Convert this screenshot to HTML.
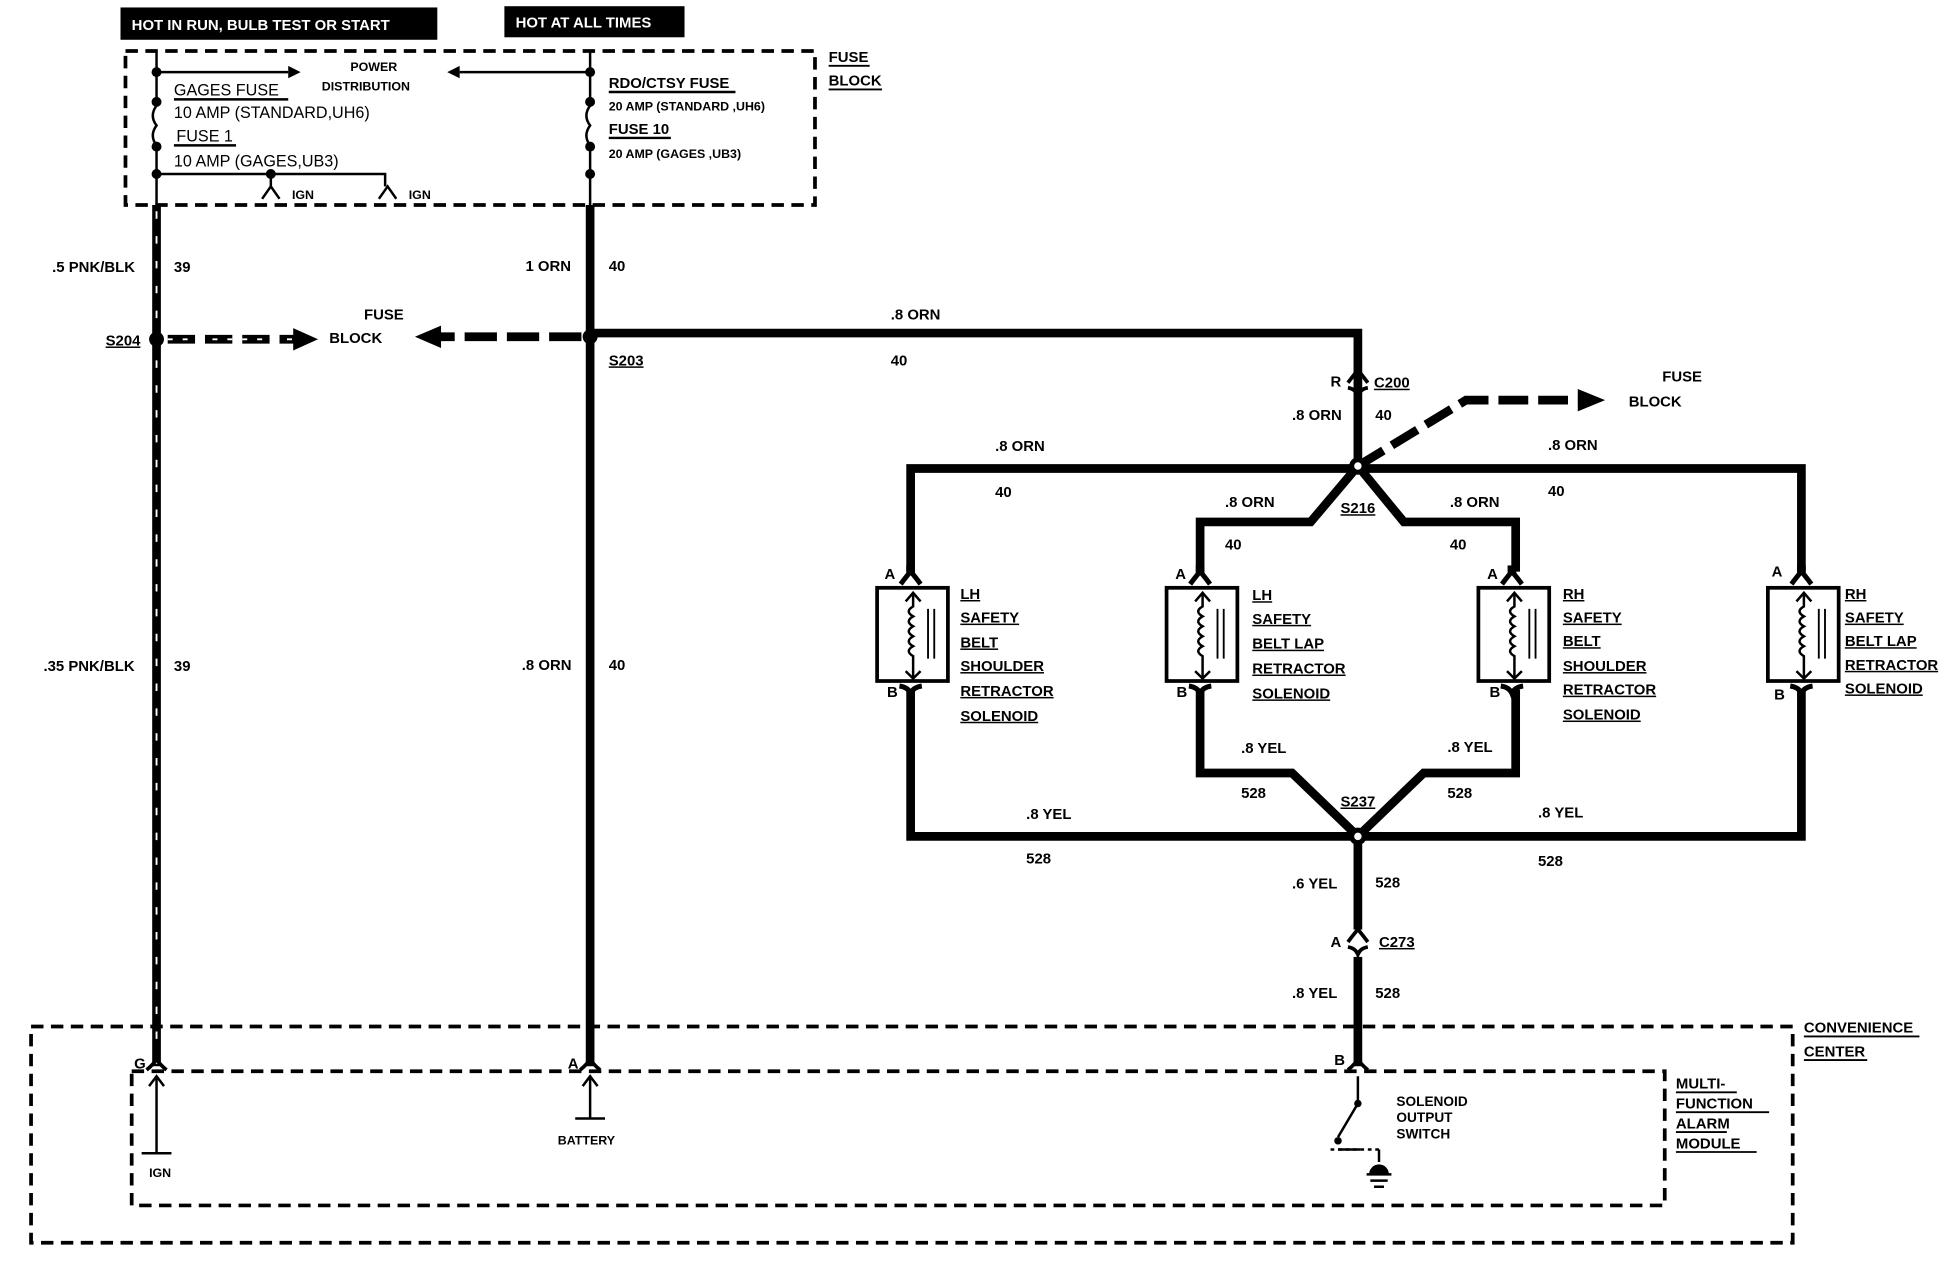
<!DOCTYPE html>
<html><head><meta charset="utf-8"><style>
html,body{margin:0;padding:0;background:#fff}
svg{display:block}
text{font-family:"Liberation Sans",sans-serif;font-weight:bold;font-size:12px;fill:#000}
.u{text-decoration:underline}
</style></head><body>
<svg width="1948" height="1280" viewBox="0 0 1568 1030" preserveAspectRatio="none" xmlns="http://www.w3.org/2000/svg">
<defs>
<g id="sol">
 <path d="M0,455 V463" stroke="#000" stroke-width="7" fill="none"/>
 <path d="M-8,470 Q-2,462 0,460 Q2,462 8,470" stroke="#000" stroke-width="4" fill="none"/>
 <rect x="-27" y="473" width="57" height="75" fill="#fff" stroke="#000" stroke-width="3"/>
 <path d="M2,478 V488 q-7,4 0,8 q-7,4 0,8 q-7,4 0,8 q-7,4 0,8 q-7,4 0,8 V545" stroke="#000" stroke-width="2" fill="none"/>
 <path d="M-4,484 L2,477 L8,484 M-4,540 L2,546 L8,540" stroke="#000" stroke-width="2" fill="none"/>
 <path d="M14,490 V530 M19,490 V530" stroke="#000" stroke-width="1.5"/>
 <path d="M-9,552 Q-2,553 0,558 Q2,553 9,552" stroke="#000" stroke-width="4" fill="none"/>
</g>
</defs>
<!-- header boxes -->
<rect x="97" y="6" width="255" height="26" fill="#000"/>
<text x="106" y="24" style="fill:#fff">HOT IN RUN, BULB TEST OR START</text>
<rect x="406" y="5" width="145" height="25" fill="#000"/>
<text x="415" y="22" style="fill:#fff">HOT AT ALL TIMES</text>
<!-- fuse block -->
<rect x="101" y="41" width="555" height="124" fill="none" stroke="#000" stroke-width="3" stroke-dasharray="10,6"/>
<text x="667" y="50">FUSE</text><text x="667" y="69">BLOCK</text>
<path d="M667,53 H700 M667,72 H710" stroke="#000" stroke-width="1.5"/>
<g stroke="#000" stroke-width="2" fill="none">
<path d="M126,42 V85 q-6,8 0,16 q-6,8 0,16 V165"/>
<path d="M126,58 H232"/><path d="M126,140 H310 V150 M218,140 V150"/>
<path d="M475,42 V85 q-6,8 0,16 q-6,8 0,16 V165"/>
<path d="M475,58 H370"/>
<path d="M211,160 L218,150 L225,160 M305,160 L312,150 L319,160"/>
</g>
<path d="M232,53 L242,58 L232,63Z M370,53 L360,58 L370,63Z" fill="#000"/>
<g fill="#000"><circle cx="126" cy="58" r="4"/><circle cx="126" cy="82" r="4"/><circle cx="126" cy="118" r="4"/><circle cx="126" cy="140" r="4"/><circle cx="218" cy="140" r="4"/>
<circle cx="475" cy="58" r="4"/><circle cx="475" cy="82" r="4"/><circle cx="475" cy="118" r="4"/><circle cx="475" cy="140" r="4"/></g>
<text x="282" y="57" style="font-size:10px">POWER</text><text x="259" y="73" style="font-size:10px">DISTRIBUTION</text>
<text x="140" y="77" style="font-weight:normal;font-size:13px">GAGES FUSE</text><path d="M140,80 H232" stroke="#000" stroke-width="2"/>
<text x="140" y="95" style="font-weight:normal;font-size:13px">10 AMP (STANDARD,UH6)</text>
<text x="142" y="114" style="font-weight:normal;font-size:13px">FUSE 1</text><path d="M140,117 H190" stroke="#000" stroke-width="2"/>
<text x="140" y="134" style="font-weight:normal;font-size:13px">10 AMP (GAGES,UB3)</text>
<text x="235" y="160" style="font-size:10px">IGN</text><text x="329" y="160" style="font-size:10px">IGN</text>
<text x="490" y="71">RDO/CTSY FUSE</text><path d="M490,74 H592" stroke="#000" stroke-width="2"/>
<text x="490" y="89" style="font-size:10px">20 AMP (STANDARD ,UH6)</text>
<text x="490" y="108">FUSE 10</text><path d="M490,111 H540" stroke="#000" stroke-width="2"/>
<text x="490" y="127" style="font-size:10px">20 AMP (GAGES ,UB3)</text>
<!-- main verticals -->
<path d="M126,165 V858" stroke="#000" stroke-width="7"/>
<path d="M126,170 V858" stroke="#fff" stroke-width="1.5" stroke-dasharray="6,14"/>
<path d="M475,165 V858" stroke="#000" stroke-width="7"/>
<text x="42" y="219">.5 PNK/BLK</text><text x="140" y="219">39</text>
<text x="423" y="218">1 ORN</text><text x="490" y="218">40</text>
<text x="35" y="540">.35 PNK/BLK</text><text x="140" y="540">39</text>
<text x="420" y="539">.8 ORN</text><text x="490" y="539">40</text>
<!-- S204 -->
<circle cx="126" cy="273" r="6" fill="#000"/>
<text x="85" y="278" class="u">S204</text>
<path d="M135,273 H238" stroke="#000" stroke-width="7" stroke-dasharray="22,8"/>
<path d="M135,273 H238" stroke="#fff" stroke-width="1.5" stroke-dasharray="4,8"/>
<path d="M236,264 L256,273 L236,282Z" fill="#000"/>
<text x="265" y="276">BLOCK</text><text x="293" y="257">FUSE</text>
<!-- S203 -->
<circle cx="475" cy="271" r="6" fill="#000"/>
<text x="490" y="294" class="u">S203</text>
<path d="M468,271 H352" stroke="#000" stroke-width="7" stroke-dasharray="26,8"/>
<path d="M355,262 L334,271 L355,280Z" fill="#000"/>
<path d="M475,268 H1093 V372" stroke="#000" stroke-width="7" fill="none"/>
<text x="717" y="257">.8 ORN</text><text x="717" y="294">40</text>
<!-- C200 -->
<path d="M1085,308 Q1091,300 1093,298 Q1095,300 1101,308 M1085,312 Q1091,313 1093,318 Q1095,313 1101,312" stroke="#000" stroke-width="3" fill="none"/>
<text x="1071" y="311">R</text><text x="1106" y="312" class="u">C200</text>
<text x="1040" y="338">.8 ORN</text><text x="1107" y="338">40</text>
<!-- dashed arrow fuse block -->
<path d="M1093,375 L1180,322 H1272" stroke="#000" stroke-width="7" fill="none" stroke-dasharray="24,8"/>
<path d="M1270,313 L1292,322 L1270,331Z" fill="#000"/>
<text x="1338" y="307">FUSE</text><text x="1311" y="327">BLOCK</text>
<!-- S216 loop -->
<g stroke="#000" stroke-width="7" fill="none">
<path d="M733,460 V377 H1450 V460"/>
<path d="M1093,375 L1055,420 H966 V460"/>
<path d="M1093,375 L1130,420 H1220 V460"/>
<path d="M733,555 V673 H1450 V555"/>
<path d="M966,555 V622 H1040 L1093,673 L1146,622 H1220 V555"/>
<path d="M1093,673 V858"/>
</g>
<circle cx="1093" cy="375" r="7" fill="#000"/><circle cx="1093" cy="375" r="3" fill="#fff"/>
<circle cx="1093" cy="673" r="7" fill="#000"/><circle cx="1093" cy="673" r="3" fill="#fff"/>
<text x="1079" y="413" class="u">S216</text><text x="1079" y="649" class="u">S237</text>
<text x="801" y="363">.8 ORN</text><text x="801" y="400">40</text>
<text x="1246" y="362">.8 ORN</text><text x="1246" y="399">40</text>
<text x="986" y="408">.8 ORN</text><text x="986" y="442">40</text>
<text x="1167" y="408">.8 ORN</text><text x="1167" y="442">40</text>
<text x="826" y="659">.8 YEL</text><text x="826" y="695">528</text>
<text x="1238" y="658">.8 YEL</text><text x="1238" y="697">528</text>
<text x="999" y="606">.8 YEL</text><text x="999" y="642">528</text>
<text x="1165" y="605">.8 YEL</text><text x="1165" y="642">528</text>
<text x="1040" y="715">.6 YEL</text><text x="1107" y="714">528</text>
<text x="1040" y="803">.8 YEL</text><text x="1107" y="803">528</text>
<!-- C273 -->
<rect x="1088" y="748" width="10" height="22" fill="#fff"/>
<path d="M1085,758 Q1091,750 1093,748 Q1095,750 1101,758 M1085,762 Q1091,763 1093,768 Q1095,763 1101,762" stroke="#000" stroke-width="3" fill="none"/>
<text x="1071" y="762">A</text><text x="1110" y="762" class="u">C273</text>
<!-- solenoids -->
<use href="#sol" x="733"/><use href="#sol" x="966"/><use href="#sol" x="1217"/><use href="#sol" x="1450"/>
<rect x="0" y="548" width="0" height="0"/>
<g>
<text x="712" y="466">A</text><text x="714" y="561">B</text>
<text x="946" y="466">A</text><text x="947" y="561">B</text>
<text x="1197" y="466">A</text><text x="1199" y="561">B</text>
<text x="1426" y="464">A</text><text x="1428" y="563">B</text>
</g>
<g style="font-size:12.5px">
<text x="773" y="482" class="u">LH</text><text x="773" y="501" class="u">SAFETY</text><text x="773" y="521" class="u">BELT</text><text x="773" y="540" class="u">SHOULDER</text><text x="773" y="560" class="u">RETRACTOR</text><text x="773" y="580" class="u">SOLENOID</text>
<text x="1008" y="483" class="u">LH</text><text x="1008" y="502" class="u">SAFETY</text><text x="1008" y="522" class="u">BELT LAP</text><text x="1008" y="542" class="u">RETRACTOR</text><text x="1008" y="562" class="u">SOLENOID</text>
<text x="1258" y="482" class="u">RH</text><text x="1258" y="501" class="u">SAFETY</text><text x="1258" y="520" class="u">BELT</text><text x="1258" y="540" class="u">SHOULDER</text><text x="1258" y="559" class="u">RETRACTOR</text><text x="1258" y="579" class="u">SOLENOID</text>
<text x="1485" y="482" class="u">RH</text><text x="1485" y="501" class="u">SAFETY</text><text x="1485" y="520" class="u">BELT LAP</text><text x="1485" y="539" class="u">RETRACTOR</text><text x="1485" y="558" class="u">SOLENOID</text>
</g>
<!-- convenience center -->
<rect x="25" y="826" width="1418" height="174" fill="none" stroke="#000" stroke-width="3" stroke-dasharray="10,6"/>
<rect x="106" y="862" width="1234" height="108" fill="none" stroke="#000" stroke-width="3" stroke-dasharray="10,6"/>
<text x="1452" y="831">CONVENIENCE</text><text x="1452" y="850">CENTER</text>
<path d="M1452,834 H1545 M1452,853 H1503" stroke="#000" stroke-width="1.5"/>
<text x="1349" y="876">MULTI-</text><text x="1349" y="892">FUNCTION</text><text x="1349" y="908">ALARM</text><text x="1349" y="924">MODULE</text>
<path d="M1349,879 H1398 M1349,895 H1424 M1349,911 H1390 M1349,927 H1414" stroke="#000" stroke-width="1.5"/>
<!-- bottom connectors -->
<g stroke="#000" stroke-width="3" fill="none">
<path d="M118,861 Q124,856 126,852 Q128,856 134,861"/><path d="M467,861 Q473,856 475,852 Q477,856 483,861"/><path d="M1085,861 Q1091,856 1093,852 Q1095,856 1101,861"/>
</g>
<g stroke="#000" stroke-width="2" fill="none">
<path d="M126,866 V928 M114,928 H138 M120,874 L126,866 L132,874"/>
<path d="M475,866 V900 M463,900 H487 M469,874 L475,866 L481,874"/>
<path d="M1093,866 V888 L1077,915 M1077,925 H1095 M1110,925 V935 M1100,945 H1120 M1103,950 H1117 M1106,955 H1114" />
<path d="M1071,925 H1110" stroke-dasharray="3,3"/>
</g>
<circle cx="1093" cy="888" r="3" fill="#000"/><circle cx="1077" cy="918" r="3" fill="#000"/>
<path d="M1102,945 a8,8 0 0 1 16,0Z" fill="#000"/>
<text x="108" y="860">G</text><text x="457" y="860">A</text><text x="1074" y="857">B</text>
<text x="120" y="947" style="font-size:10px">IGN</text><text x="449" y="921" style="font-size:10px">BATTERY</text>
<text x="1124" y="890" style="font-size:11px">SOLENOID</text><text x="1124" y="903" style="font-size:11px">OUTPUT</text><text x="1124" y="916" style="font-size:11px">SWITCH</text>
</svg>
</body></html>
